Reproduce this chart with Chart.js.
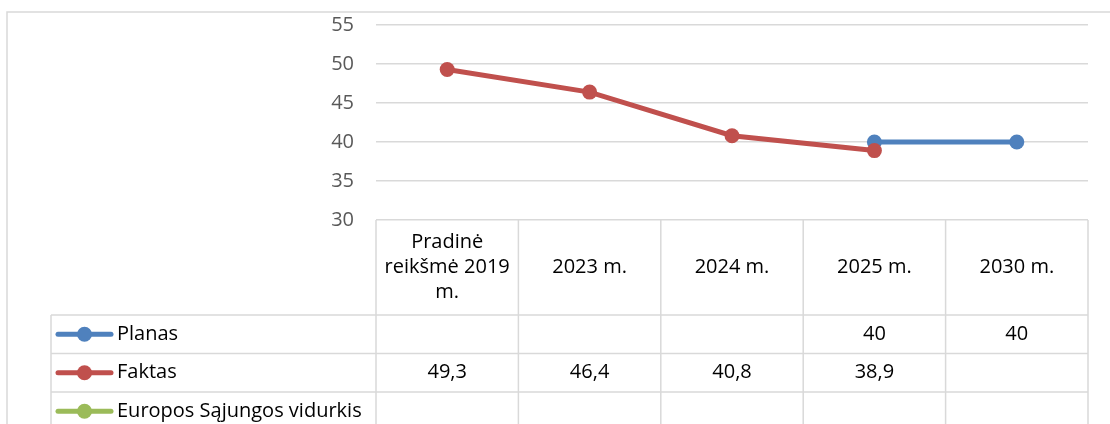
<!DOCTYPE html>
<html>
<head>
<meta charset="utf-8">
<script src="https://cdn.jsdelivr.net/npm/chart.js@4"></script>
<style>
html,body{margin:0;padding:0;background:#fff;}
#wrap{position:relative;width:1110px;height:424px;}
</style>
</head>
<body>
<div id="wrap"><canvas id="c" width="1110" height="424"></canvas></div>
<script>
// ---- data ----
const categories = [["Pradinė", "reikšmė 2019", "m."], "2023 m.", "2024 m.", "2025 m.", "2030 m."];
const planas = [null, null, null, 40, 40];
const faktas = [49.3, 46.4, 40.8, 38.9, null];
const esVidurkis = [null, null, null, null, null];
const seriesNames = ["Planas", "Faktas", "Europos Sąjungos vidurkis"];
const seriesColors = ["#4F81BD", "#C0504D", "#9BBB59"];
const yMin = 30, yMax = 55, yStep = 5;

const FONT = "'Open Sans'";
const FS = 20;
const GRID = "#d9d9d9";

function fmt(v) { return v == null ? "" : String(v).replace(".", ","); }

const tablePlugin = {
  id: "dataTable",
  beforeDraw(chart) {
    const ctx = chart.ctx;
    ctx.save();
    ctx.strokeStyle = GRID;
    ctx.lineWidth = 1.5;
    ctx.strokeRect(7, 12, 1115, 430);
    ctx.restore();
  },
  afterDraw(chart) {
    const ctx = chart.ctx;
    const area = chart.chartArea;
    const xs = chart.scales.x;
    const n = categories.length;
    const colW = (area.right - area.left) / n;
    const headerH = 95;
    const rowH = 38.5;
    const legendLeft = 51;
    const rowsTop = area.bottom + headerH;
    const H = chart.height + 20;
    const allSeries = [planas, faktas, esVidurkis];

    ctx.save();
    ctx.strokeStyle = GRID;
    ctx.lineWidth = 1.5;
    ctx.beginPath();
    for (let i = 0; i <= n; i++) {
      const xl = (i < n ? xs.getPixelForValue(i) - colW / 2 : xs.getPixelForValue(n - 1) + colW / 2);
      ctx.moveTo(xl, area.bottom);
      ctx.lineTo(xl, H);
    }
    ctx.moveTo(legendLeft, rowsTop);
    ctx.lineTo(legendLeft, H);
    for (let r = 0; r <= allSeries.length; r++) {
      const y = rowsTop + r * rowH;
      ctx.moveTo(legendLeft, y);
      ctx.lineTo(area.right, y);
    }
    ctx.stroke();

    ctx.fillStyle = "#000";
    ctx.font = FS + "px " + FONT;
    ctx.textAlign = "center";
    ctx.textBaseline = "middle";
    for (let i = 0; i < n; i++) {
      const cx = xs.getPixelForValue(i);
      const lab = Array.isArray(categories[i]) ? categories[i] : [categories[i]];
      const lh = 25;
      const cy = area.bottom + headerH / 2;
      lab.forEach((t, k) => {
        ctx.fillText(t, cx, cy + (k - (lab.length - 1) / 2) * lh);
      });
    }
    allSeries.forEach((vals, r) => {
      const cy = rowsTop + r * rowH + rowH / 2;
      vals.forEach((v, i) => {
        ctx.fillText(fmt(v), xs.getPixelForValue(i), cy);
      });
      const col = seriesColors[r];
      ctx.strokeStyle = col;
      ctx.lineWidth = 5;
      ctx.lineCap = "round";
      ctx.beginPath();
      ctx.moveTo(58, cy);
      ctx.lineTo(111, cy);
      ctx.stroke();
      ctx.fillStyle = col;
      ctx.beginPath();
      ctx.arc(84.5, cy, 7.5, 0, Math.PI * 2);
      ctx.fill();
      ctx.fillStyle = "#000";
      ctx.textAlign = "left";
      ctx.fillText(seriesNames[r], 117, cy);
      ctx.textAlign = "center";
    });
    ctx.restore();
  }
};

function ds(label, data, color, order) {
  return {
    label, data, order,
    borderColor: color,
    backgroundColor: color,
    borderWidth: 5,
    pointRadius: 7.5,
    pointHoverRadius: 7.5,
    pointBackgroundColor: color,
    pointBorderColor: color,
    pointBorderWidth: 0,
    tension: 0,
    spanGaps: false
  };
}

new Chart(document.getElementById("c"), {
  type: "line",
  data: {
    labels: categories,
    datasets: [
      ds(seriesNames[0], planas, seriesColors[0], 2),
      ds(seriesNames[1], faktas, seriesColors[1], 1),
      ds(seriesNames[2], esVidurkis, seriesColors[2], 0)
    ]
  },
  options: {
    responsive: false,
    animation: false,
    events: [],
    layout: { padding: { top: 25, bottom: 204, right: 22, left: 0 } },
    plugins: { legend: { display: false }, tooltip: { enabled: false } },
    scales: {
      x: { display: false, offset: true },
      y: {
        min: yMin, max: yMax,
        ticks: { stepSize: yStep, color: "#595959", padding: 22, font: { family: "Open Sans", size: FS } },
        grid: { color: GRID, lineWidth: 1.5, drawTicks: false },
        border: { display: false },
        afterFit(s) { s.width = 376; s.paddingTop = 0; s.paddingBottom = 0; }
      }
    }
  },
  plugins: [tablePlugin]
});
</script>
</body>
</html>
